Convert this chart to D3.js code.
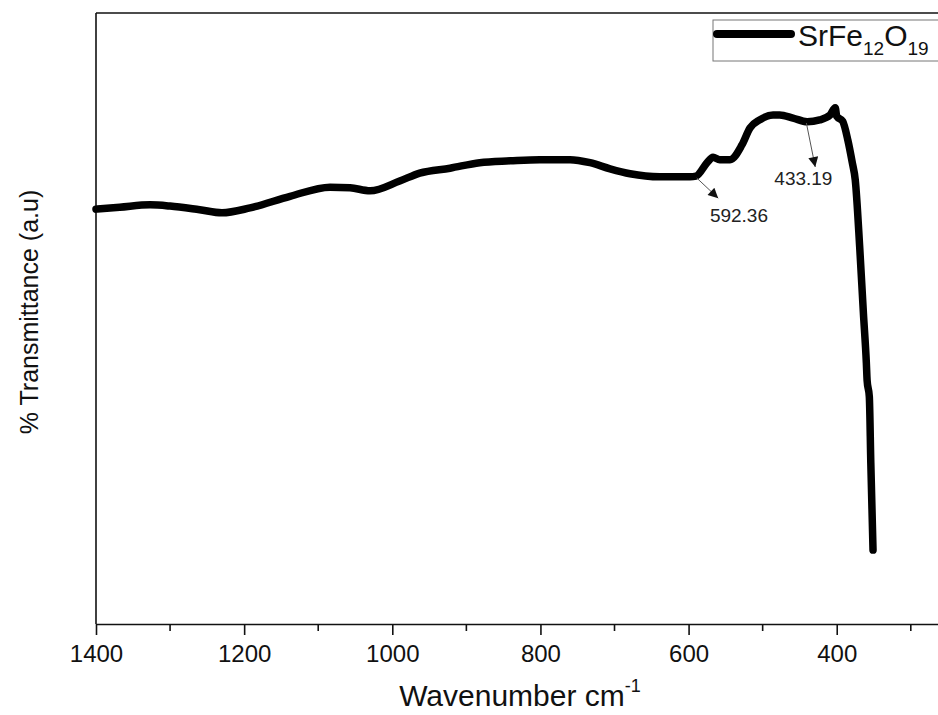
<!DOCTYPE html>
<html>
<head>
<meta charset="utf-8">
<script src="https://cdn.jsdelivr.net/npm/d3@7"></script>
<style>
  body { margin: 0; background: #fff; }
  svg { display: block; font-family: "Liberation Sans", Arial, sans-serif; }
</style>
</head>
<body>
<div class="canvas"></div>
<script>
// wavenumber (cm-1) and transmittance (a.u)
const wavenumber = [1400, 1368, 1327, 1300, 1260, 1230, 1192, 1138, 1084, 1057, 1030, 990, 963, 922, 882, 841, 801, 760, 733, 706, 679, 639, 598, 590, 575, 567, 558, 544, 528, 517, 504, 486, 477, 459, 440, 423, 409, 402, 400, 392, 385, 379, 375, 369, 364, 360, 359, 356, 354, 351]
const transmittance = [67.9, 68.2, 68.6, 68.4, 67.8, 67.3, 68.1, 70.0, 71.5, 71.4, 70.9, 72.5, 73.8, 74.6, 75.5, 75.8, 76.0, 76.0, 75.5, 74.5, 73.7, 73.2, 73.2, 73.3, 75.5, 76.4, 76.0, 76.0, 78.4, 81.2, 82.5, 83.3, 83.3, 82.8, 82.2, 82.5, 83.3, 84.5, 83.1, 82.3, 79.2, 75.5, 72.7, 61.7, 50.9, 42.7, 39.9, 37.2, 26.4, 12.1]

const majorTicks = [1400, 1200, 1000, 800, 600, 400]
const minorTicks = [1300, 1100, 900, 700, 500, 300]

// peak labels: arrow from [w0,t0] to [w1,t1], text at [wt,tt]
const peakLabels = ['592.36', '433.19']
const peakArrows = [[589, 73.0, 560, 69.7], [441, 82.0, 429, 74.8]]
const peakTextPos = [[532, 65.8], [445, 71.8]]

const seriesName = ['SrFe', '12', 'O', '19']

const dims = {width: 938, height: 715}
const plot = {left: 96, top: 13, bottom: 624}

var svg = d3.select('.canvas')
            .append('svg')
            .attr('width', dims.width)
            .attr('height', dims.height)

const x = d3.scaleLinear()
            .domain([1400, 250])
            .range([plot.left, plot.left + 1150 * 0.74073])

const y = d3.scaleLinear()
            .domain([0, 100])
            .range([plot.bottom, plot.top])

// frame lines (left + top)
svg.append('line')
    .attr('x1', plot.left).attr('x2', plot.left)
    .attr('y1', plot.top).attr('y2', plot.bottom)
    .attr('stroke', '#111').attr('stroke-width', 1.6)
svg.append('line')
    .attr('x1', plot.left).attr('x2', dims.width)
    .attr('y1', plot.top).attr('y2', plot.top)
    .attr('stroke', '#111').attr('stroke-width', 1.6)

const xAxis = d3.axisBottom(x)
                .tickValues(majorTicks)
                .tickSize(11)
                .tickSizeOuter(0)
                .tickPadding(10)
                .tickFormat(d3.format('d'))

const xAxisGroup = svg.append('g')
                .attr('transform', `translate(0,${plot.bottom})`)
                .call(xAxis)

xAxisGroup.select('.domain').attr('stroke', '#111').attr('stroke-width', 1.6)
xAxisGroup.selectAll('.tick line').attr('stroke', '#111').attr('stroke-width', 1.6)
xAxisGroup.selectAll('text')
    .attr('fill', '#111')
    .style('font-size', '24px')
    .style('font-family', '"Liberation Sans", Arial, sans-serif')

svg.append('g')
    .selectAll('line')
    .data(minorTicks)
    .enter()
    .append('line')
    .attr('x1', d => x(d)).attr('x2', d => x(d))
    .attr('y1', plot.bottom).attr('y2', plot.bottom + 7)
    .attr('stroke', '#111').attr('stroke-width', 1.6)

// axis titles
const xTitle = svg.append('text')
    .attr('x', 520)
    .attr('y', 706)
    .attr('text-anchor', 'middle')
    .attr('fill', '#111')
    .style('font-size', '30px')
xTitle.append('tspan').text('Wavenumber cm')
xTitle.append('tspan').attr('dy', -14).style('font-size', '18px').text('-1')

svg.append('text')
    .attr('transform', 'translate(38,312) rotate(-90)')
    .attr('text-anchor', 'middle')
    .attr('fill', '#111')
    .style('font-size', '25px')
    .text('% Transmittance (a.u)')

// spectrum
const data = wavenumber.map((w, i) => ({w: w, t: transmittance[i]}))

const line = d3.line()
            .x(d => x(d.w))
            .y(d => y(d.t))
            .curve(d3.curveMonotoneX)

svg.append('path')
    .datum(data)
    .attr('d', line)
    .attr('fill', 'none')
    .attr('stroke', '#000')
    .attr('stroke-width', 7.5)
    .attr('stroke-linejoin', 'round')
    .attr('stroke-linecap', 'round')

// arrows
svg.append('defs').append('marker')
    .attr('id', 'arrow')
    .attr('viewBox', '0 0 10 10')
    .attr('refX', 10).attr('refY', 5)
    .attr('markerWidth', 14).attr('markerHeight', 10)
    .attr('markerUnits', 'userSpaceOnUse')
    .attr('orient', 'auto')
    .append('path')
    .attr('d', 'M0,0 L10,5 L0,10 z')
    .attr('fill', '#111')

svg.append('g')
    .selectAll('line')
    .data(peakArrows)
    .enter()
    .append('line')
    .attr('x1', d => x(d[0])).attr('y1', d => y(d[1]))
    .attr('x2', d => x(d[2])).attr('y2', d => y(d[3]))
    .attr('stroke', '#555')
    .attr('stroke-width', 1)
    .attr('marker-end', 'url(#arrow)')

svg.append('g')
    .selectAll('text')
    .data(peakLabels)
    .enter()
    .append('text')
    .attr('x', (d, i) => x(peakTextPos[i][0]))
    .attr('y', (d, i) => y(peakTextPos[i][1]))
    .attr('text-anchor', 'middle')
    .attr('fill', '#222')
    .style('font-size', '19px')
    .text(d => d)

// legend
const legendGroup = svg.append('g')

legendGroup.append('rect')
    .attr('x', 713).attr('y', 20)
    .attr('width', 240).attr('height', 41)
    .attr('fill', '#fff')
    .attr('stroke', '#777')
    .attr('stroke-width', 1)

legendGroup.append('line')
    .attr('x1', 717).attr('x2', 791)
    .attr('y1', 34).attr('y2', 34)
    .attr('stroke', '#000')
    .attr('stroke-width', 8)
    .attr('stroke-linecap', 'round')

const legText = legendGroup.append('text')
    .attr('x', 798)
    .attr('y', 46)
    .attr('fill', '#111')
    .style('font-size', '30px')

legText.append('tspan').text(seriesName[0])
legText.append('tspan').attr('dy', 9).style('font-size', '19px').text(seriesName[1])
legText.append('tspan').attr('dy', -9).text(seriesName[2])
legText.append('tspan').attr('dy', 9).style('font-size', '19px').text(seriesName[3])
</script>
</body>
</html>
